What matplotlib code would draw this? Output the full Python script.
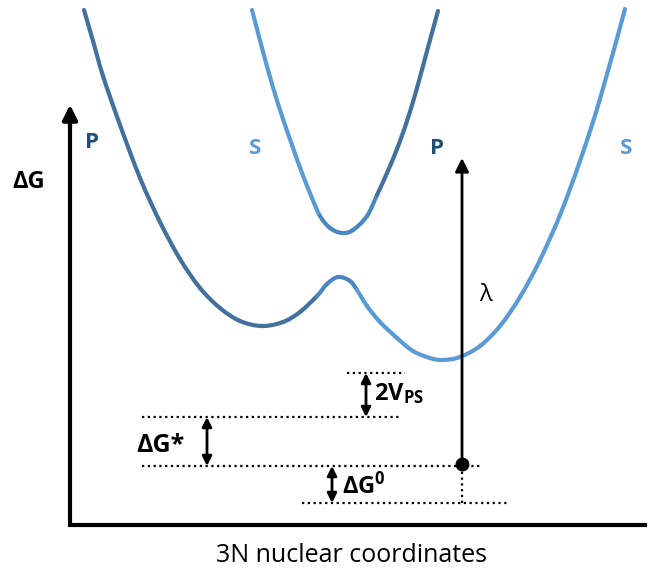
import matplotlib
matplotlib.use('Agg')
import matplotlib.pyplot as plt
from matplotlib.path import Path
from matplotlib.patches import PathPatch

plt.rcParams['font.family'] = ['Open Sans', 'DejaVu Sans']
plt.rcParams['mathtext.fontset'] = 'custom'
plt.rcParams['mathtext.rm'] = 'Open Sans'
plt.rcParams['mathtext.bf'] = 'Open Sans:bold'

# traced curve points (x, energy drawn downwards like the picture)
lower_dark_x = [84, 93, 103, 120, 140, 160, 180, 200, 220, 240, 262, 283, 300, 317]
lower_dark_y = [10, 41, 76, 125, 178, 222, 259, 288, 308, 321, 326, 322, 312, 296]
lower_mid_x = [317, 327, 338, 350, 357]
lower_mid_y = [296, 284, 277, 281, 290]
lower_light_x = [357, 367, 380, 397, 413, 430, 443, 460, 480, 500, 520, 540, 560, 580, 600, 625]
lower_light_y = [290, 306, 322, 338, 351, 358, 360, 357, 346, 326, 297, 260, 215, 161, 99, 9]

upper_light_x = [252, 262, 272, 282, 292, 302, 312, 320]
upper_light_y = [10, 48, 84, 116, 145, 173, 198, 216]
upper_mid_x = [320, 330, 342, 353, 367, 377]
upper_mid_y = [216, 228, 233, 230, 216, 195]
upper_dark_x = [377, 387, 397, 407, 417, 427, 438]
upper_dark_y = [195, 173, 149, 121, 88, 51, 11]

# energy levels
level_2v = 373
level_ts = 417
level_min = 466
level_bottom = 503
lambda_x = 462
lambda_top = 158

dark = '#41719c'
mid = '#4a86c0'
light = '#5b9bd5'
label_dark = '#1f4e79'


def draw_curve(ax, groups):
    # join the traced pieces and draw them as a smooth (Catmull-Rom) bezier path
    pts, colors = [], []
    for xs, ys, c in groups:
        start = 1 if pts else 0
        for x, y in list(zip(xs, ys))[start:]:
            pts.append((x, y))
            colors.append(c)
    n = len(pts)
    for i in range(n - 1):
        p0 = pts[max(i - 1, 0)]
        p1 = pts[i]
        p2 = pts[i + 1]
        p3 = pts[min(i + 2, n - 1)]
        c1 = (p1[0] + (p2[0] - p0[0]) / 6, p1[1] + (p2[1] - p0[1]) / 6)
        c2 = (p2[0] - (p3[0] - p1[0]) / 6, p2[1] - (p3[1] - p1[1]) / 6)
        path = Path([p1, c1, c2, p2], [Path.MOVETO, Path.CURVE4, Path.CURVE4, Path.CURVE4])
        ax.add_patch(PathPatch(path, fill=False, edgecolor=colors[i + 1], lw=3,
                               capstyle='round'))


fig = plt.figure(figsize=(6.59, 5.77), dpi=100)
ax = fig.add_axes([0, 0, 1, 1])
ax.set_xlim(0, 659)
ax.set_ylim(577, 0)
ax.axis('off')

draw_curve(ax, [(lower_dark_x, lower_dark_y, dark), (lower_mid_x, lower_mid_y, mid),
                (lower_light_x, lower_light_y, light)])
draw_curve(ax, [(upper_light_x, upper_light_y, light), (upper_mid_x, upper_mid_y, mid),
                (upper_dark_x, upper_dark_y, dark)])

# axes
ax.plot([70, 70, 645], [110, 525, 525], color='black', lw=3, solid_joinstyle='miter')
ax.annotate('', xy=(70, 102), xytext=(70, 130),
            arrowprops=dict(arrowstyle='-|>', color='black', lw=3, mutation_scale=22))
ax.annotate('', xy=(662, 525), xytext=(630, 525),
            arrowprops=dict(arrowstyle='-|>', color='black', lw=3, mutation_scale=22))

# dotted levels
dot = dict(color='black', lw=1.6, linestyle=(0, (1, 1.6)))
ax.plot([347, 405], [level_2v, level_2v], **dot)
ax.plot([142, 402], [level_ts, level_ts], **dot)
ax.plot([142, 480], [level_min, level_min], **dot)
ax.plot([302, 510], [level_bottom, level_bottom], **dot)
ax.plot([lambda_x, lambda_x], [level_min, level_bottom], **dot)

# double arrows
dbl = dict(arrowstyle='<|-|>', color='black', lw=2, mutation_scale=14, shrinkA=0, shrinkB=0)
ax.annotate('', xy=(366, level_2v), xytext=(366, level_ts), arrowprops=dbl)
ax.annotate('', xy=(207, level_ts), xytext=(207, level_min), arrowprops=dbl)
ax.annotate('', xy=(332, level_min), xytext=(332, level_bottom), arrowprops=dbl)

# lambda arrow
ax.annotate('', xy=(lambda_x, lambda_top), xytext=(lambda_x, level_min),
            arrowprops=dict(arrowstyle='-|>', color='black', lw=2, mutation_scale=20,
                            shrinkA=0, shrinkB=0))
ax.plot([lambda_x], [level_min - 2], 'o', color='black', ms=9)

# labels
ax.text(92, 143, 'P', color=label_dark, fontsize=16, fontweight='bold', ha='center', va='center')
ax.text(255, 148, 'S', color=light, fontsize=16, fontweight='bold', ha='center', va='center')
ax.text(437, 148, 'P', color=label_dark, fontsize=16, fontweight='bold', ha='center', va='center')
ax.text(626, 148, 'S', color=light, fontsize=16, fontweight='bold', ha='center', va='center')
ax.text(12, 182, 'ΔG', color='black', fontsize=17, fontweight='bold', ha='left', va='center')
ax.text(485, 295, 'λ', color='black', fontsize=17, ha='center', va='center')
ax.text(374, 394, r'$\mathbf{2V_{PS}}$', color='black', fontsize=17, ha='left', va='center')
ax.text(136, 446, 'ΔG*', color='black', fontsize=18, fontweight='bold', ha='left', va='center')
ax.text(342, 486, r'$\mathbf{ΔG^{0}}$', color='black', fontsize=17, ha='left', va='center')
ax.text(352, 555, '3N nuclear coordinates', color='black', fontsize=18, ha='center', va='center')

fig.savefig('out.png', dpi=100)
